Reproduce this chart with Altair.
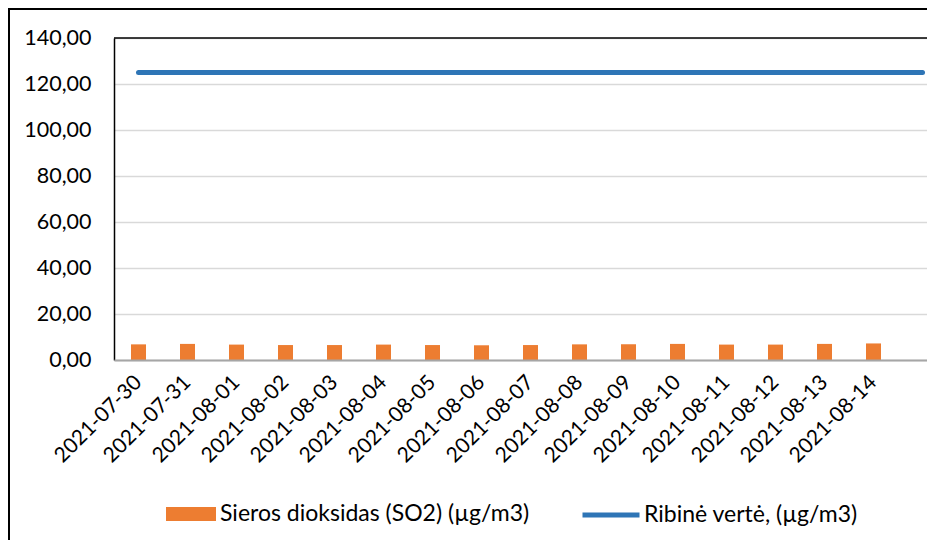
import altair as alt
import pandas as pd

dates = ["2021-07-30", "2021-07-31", "2021-08-01", "2021-08-02", "2021-08-03",
         "2021-08-04", "2021-08-05", "2021-08-06", "2021-08-07", "2021-08-08",
         "2021-08-09", "2021-08-10", "2021-08-11", "2021-08-12", "2021-08-13",
         "2021-08-14"]
so2_values = [6.8, 7.0, 6.7, 6.5, 6.5, 6.7, 6.5, 6.4, 6.5, 6.8,
              6.8, 7.0, 6.7, 6.7, 7.0, 7.2]
# the limit series has one more (unlabelled) category than the SO2 series
limit_categories = dates + [" "]
limit_values = [125] * 17
y_ticks = [0, 20, 40, 60, 80, 100, 120, 140]

bar_name = "Sieros dioksidas (SO2) (µg/m3)"
line_name = "Ribinė vertė, (µg/m3)"

FONT = "Lato"
bars_df = pd.DataFrame({"date": dates, "value": so2_values, "series": bar_name})
line_df = pd.DataFrame({"date": limit_categories, "value": limit_values, "series2": line_name})

x_scale = alt.Scale(domain=limit_categories, range=[0, 833],
                    paddingInner=0.694, paddingOuter=0.347)
y_scale = alt.Scale(domain=[0, 140], nice=False)

x_axis = alt.Axis(title=None, labelAngle=-45, labelAlign="right", labelBaseline="middle",
                  labelPadding=19, ticks=False, domainColor="#a6a6a6", domainWidth=2,
                  labelFontSize=21, labelFont=FONT, labelColor="#000000", grid=False,
                  zindex=1)
y_axis = alt.Axis(title=None, values=y_ticks, ticks=False, domain=True,
                  domainColor="#000000", domainWidth=1.5,
                  labelExpr="replace(format(datum.value, '.2f'), '.', ',')",
                  labelPadding=23, labelFontSize=21.5, labelFont=FONT, labelColor="#000000",
                  grid=True, gridColor="#d9d9d9", gridWidth=1.5)

bars = alt.Chart(bars_df).mark_bar().encode(
    x=alt.X("date:O", scale=x_scale, axis=x_axis),
    y=alt.Y("value:Q", scale=y_scale, axis=y_axis),
    color=alt.Color("series:N", scale=alt.Scale(domain=[bar_name], range=["#ed7d31"]),
                    legend=alt.Legend(title=None, orient="none", legendX=52, legendY=451,
                                      symbolType="M-1,-0.28H1V0.28H-1Z", symbolSize=2500,
                                      symbolStrokeWidth=0, labelFontSize=23, labelFont=FONT,
                                      labelColor="#000000", labelOffset=4, padding=0,
                                      labelLimit=0)),
)

line = alt.Chart(line_df).mark_line(strokeWidth=5, strokeCap="round").encode(
    x=alt.X("date:O", scale=x_scale, axis=x_axis),
    y=alt.Y("value:Q", scale=y_scale, axis=y_axis),
    stroke=alt.Stroke("series2:N", scale=alt.Scale(domain=[line_name], range=["#2e75b6"]),
                      legend=alt.Legend(title=None, orient="none", legendX=466, legendY=446,
                                        symbolType="stroke", symbolSize=3249,
                                        symbolStrokeWidth=5, labelFontSize=23, labelFont=FONT,
                                        labelColor="#000000", labelOffset=2, padding=0,
                                        labelLimit=0)),
)

# plot-area top border (the right edge of the plot lies outside the picture)
top_border = alt.Chart(alt.Data(values=[{}])).mark_rule(
    stroke="#000000", strokeWidth=1.5
).encode(x=alt.value(0), x2=alt.value(3000), y=alt.value(0))

# outer chart-area frame
frame = alt.Chart(alt.Data(values=[{}])).mark_rect(
    fill=None, stroke="#000000", strokeWidth=2
).encode(
    x=alt.value(-105), x2=alt.value(3000),
    y=alt.value(-29), y2=alt.value(3000),
)

chart = alt.layer(bars, line, top_border, frame).resolve_scale(color="independent").properties(
    width=813, height=322,
    autosize=alt.AutoSizeParams(type="none"),
    padding={"left": 106, "top": 30, "right": 0, "bottom": 180},
    background="white",
).configure_view(stroke=None)

chart.save("out.html", embed_options={"renderer": "svg", "actions": False})
